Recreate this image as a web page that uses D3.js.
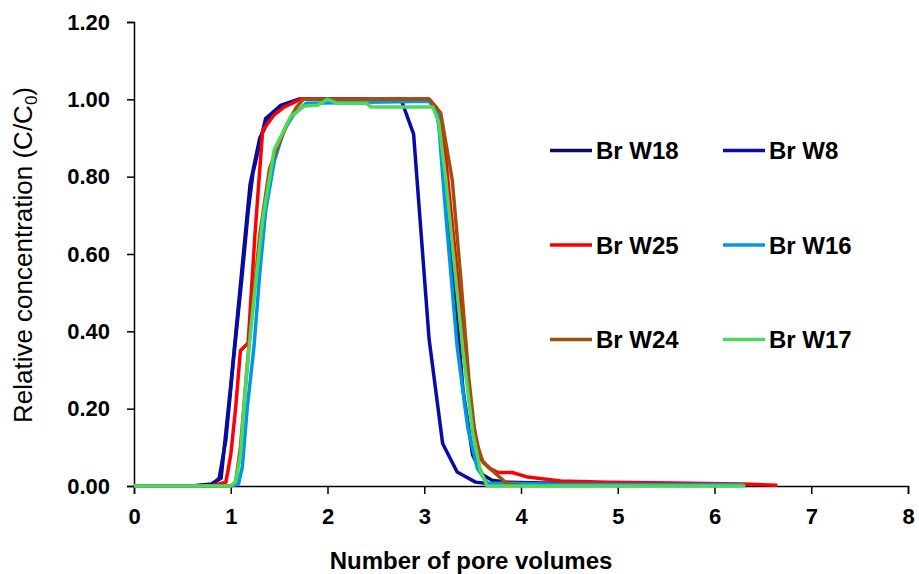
<!DOCTYPE html>
<html>
<head>
<meta charset="utf-8">
<script src="https://cdn.jsdelivr.net/npm/d3@7"></script>
<style>
  body { margin: 0; background: #fff; }
  text { font-family: "Liberation Sans", Arial, sans-serif; }
  .tick text { font-weight: bold; font-size: 22px; fill: #000; }
  .domain, .tick line { stroke: #000; stroke-width: 1.5px; }
  .curve { fill: none; stroke-width: 3.5px; stroke-linejoin: round; }
</style>
</head>
<body>
<div id="chart"></div>
<script>
// 绘图尺寸
const width = 919;
const height = 574;

// 数据: [孔隙体积, C/C0]
const brW18 = [[0, 0], [0.6, 0], [0.8, 0.005], [0.9, 0.02], [1.0, 0.26], [1.1, 0.52], [1.2, 0.78],
    [1.3, 0.90], [1.4, 0.95], [1.5, 0.98], [1.6, 0.99], [1.7, 1.0], [2.4, 1.0], [2.5, 0.995],
    [2.6, 0.995], [2.75, 1.0], [3.05, 1.0], [3.12, 0.98], [3.2, 0.86], [3.3, 0.55], [3.4, 0.25],
    [3.5, 0.08], [3.6, 0.03], [3.7, 0.015], [3.85, 0.01], [4.2, 0.008], [5.0, 0.006], [6.0, 0.004], [6.45, 0.003]];
const brW8 = [[0, 0], [0.6, 0], [0.8, 0.003], [0.88, 0.02], [0.95, 0.12], [1.03, 0.33], [1.12, 0.55],
    [1.18, 0.71], [1.23, 0.81], [1.36, 0.95], [1.52, 0.985], [1.7, 1.0], [2.76, 1.0], [2.89, 0.91],
    [3.05, 0.38], [3.19, 0.11], [3.34, 0.036], [3.53, 0.01], [3.7, 0.005], [3.9, 0.002]];
const brW25 = [[0, 0], [0.8, 0], [0.95, 0.01], [1.0, 0.08], [1.05, 0.2], [1.1, 0.35], [1.18, 0.37],
    [1.25, 0.65], [1.33, 0.92], [1.45, 0.96], [1.55, 0.98], [1.72, 1.0], [3.05, 1.0], [3.12, 0.98],
    [3.2, 0.9], [3.3, 0.65], [3.4, 0.4], [3.5, 0.17], [3.58, 0.07], [3.68, 0.045], [3.76, 0.035],
    [3.91, 0.035], [4.07, 0.023], [4.41, 0.013], [4.9, 0.01], [5.58, 0.008], [6.27, 0.005], [6.65, 0.002]];
const brW16 = [[0, 0], [1.0, 0], [1.08, 0.005], [1.12, 0.05], [1.17, 0.2], [1.24, 0.36], [1.3, 0.55],
    [1.36, 0.71], [1.45, 0.84], [1.55, 0.92], [1.65, 0.96], [1.78, 0.99], [3.05, 0.995], [3.14, 0.965],
    [3.22, 0.71], [3.34, 0.36], [3.45, 0.15], [3.55, 0.045], [3.65, 0.008], [4.5, 0.004], [6.3, 0.003]];
const brW24 = [[0, 0], [1.0, 0], [1.05, 0.01], [1.1, 0.1], [1.15, 0.25], [1.2, 0.4], [1.3, 0.65],
    [1.4, 0.82], [1.49, 0.88], [1.59, 0.94], [1.68, 0.98], [1.75, 1.0], [3.05, 1.0], [3.12, 0.98],
    [3.17, 0.965], [3.29, 0.79], [3.38, 0.53], [3.46, 0.28], [3.53, 0.12], [3.61, 0.06], [3.76, 0.027],
    [3.86, 0.005], [4.0, 0.002]];
const brW17 = [[0, 0], [1.0, 0], [1.05, 0.01], [1.1, 0.08], [1.15, 0.25], [1.19, 0.36], [1.26, 0.53],
    [1.33, 0.69], [1.45, 0.87], [1.62, 0.955], [1.76, 0.983], [1.9, 0.985], [2.0, 1.0], [2.1, 0.99],
    [2.4, 0.99], [2.45, 0.98], [3.09, 0.98], [3.15, 0.94], [3.22, 0.8], [3.3, 0.6], [3.4, 0.35],
    [3.5, 0.14], [3.58, 0.04], [3.65, 0.0], [6.32, 0]];

const seriesNames = ["Br W18", "Br W8", "Br W25", "Br W16", "Br W24", "Br W17"];
const seriesData = [brW18, brW8, brW25, brW16, brW24, brW17];
const seriesColors = ["#0b0b5e", "#0a0aa8", "#ff0000", "#0097e8", "#a0500c", "#4cd95c"];

const xTicks = [0, 1, 2, 3, 4, 5, 6, 7, 8];
const yTicks = [0, 0.2, 0.4, 0.6, 0.8, 1.0, 1.2];

var svg = d3.select("#chart").append("svg")
    .attr("width", width).attr("height", height);

var x = d3.scaleLinear().domain([0, 8]).range([134, 908]);
var y = d3.scaleLinear().domain([0, 1.2]).range([486, 22]);

// 坐标轴
svg.append("g")
    .attr("transform", "translate(0," + y(0) + ")")
    .call(d3.axisBottom(x).tickValues(xTicks).tickFormat(d3.format("d")).tickSize(8).tickPadding(14));

svg.append("g")
    .attr("transform", "translate(" + x(0) + ",0)")
    .call(d3.axisLeft(y).tickValues(yTicks).tickFormat(d3.format(".2f")).tickSize(7).tickPadding(17));

// 曲线
var line = d3.line().x(d => x(d[0])).y(d => y(d[1]));

svg.append("g").selectAll("path")
    .data(seriesData)
    .enter()
    .append("path")
    .attr("class", "curve")
    .attr("stroke", (d, i) => seriesColors[i])
    .attr("d", line);

// 图例
var legend = svg.append("g").selectAll("g")
    .data(seriesNames)
    .enter()
    .append("g")
    .attr("transform", (d, i) => "translate(" + (i % 2 ? 723 : 550) + "," + (150.5 + Math.floor(i / 2) * 94.5) + ")");

legend.append("line")
    .attr("x1", 0).attr("x2", 42)
    .attr("stroke", (d, i) => seriesColors[i])
    .attr("stroke-width", 3.5);

legend.append("text")
    .attr("x", 46).attr("y", 8.5)
    .attr("font-size", 24).attr("font-weight", "bold")
    .text(d => d);

// 轴标题
svg.append("text")
    .attr("x", 471).attr("y", 569)
    .attr("text-anchor", "middle")
    .attr("font-size", 24).attr("font-weight", "bold")
    .text("Number of pore volumes");

var yTitle = svg.append("text")
    .attr("transform", "translate(32,255) rotate(-90)")
    .attr("text-anchor", "middle")
    .attr("font-size", 26);
yTitle.append("tspan").text("Relative concentration (C/C");
yTitle.append("tspan").attr("font-size", 17).attr("dy", 5).text("0");
yTitle.append("tspan").attr("dy", -5).text(")");
</script>
</body>
</html>
